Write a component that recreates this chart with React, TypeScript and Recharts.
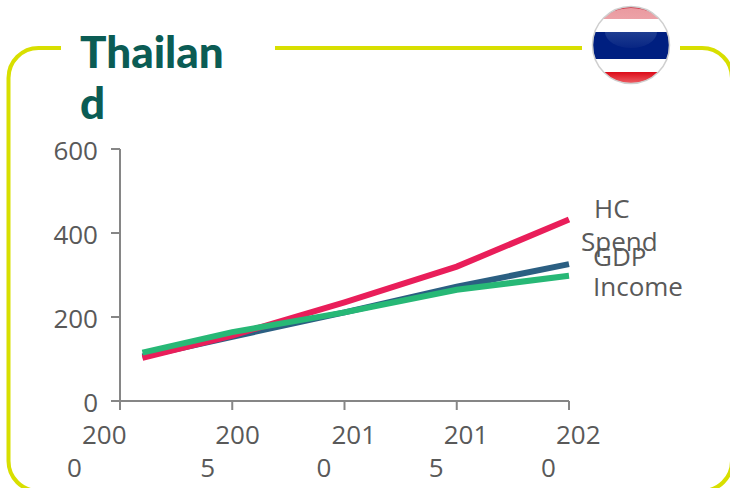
import React from "react";
import { LineChart, Line, XAxis, YAxis, LabelList } from "recharts";

const years = [2001, 2005, 2010, 2015, 2020];
const gdpValues = [106, 153, 211, 272, 326];
const hcSpendValues = [103, 156, 235, 320, 432];
const incomeValues = [115, 164, 211, 265, 298];
const xTicks = [2000, 2005, 2010, 2015, 2020];
const yTicks = [0, 200, 400, 600];
const hcSpendLabel = ["HC", "Spend"];
const gdpLabel = ["GDP", "Income"];

const rows = years.map((year, i) => ({
  year,
  gdp: gdpValues[i],
  hcSpend: hcSpendValues[i],
  income: incomeValues[i],
}));

const TEXT = "#595959";
const AXIS = "#868686";
const FRAME = "#d8df00";
const LABEL_FONT = "'Open Sans', sans-serif";

// Year labels wrap after the third digit, the way a narrow text box does.
function YearTick(props: any) {
  const { x, payload, index } = props;
  const s = String(payload.value);
  const left = x + (index === 0 ? -38 : index === 1 ? -17 : -13);
  return (
    <text fontFamily={LABEL_FONT} fontSize={26} fill={TEXT}>
      <tspan x={left} y={444}>{s.slice(0, 3)}</tspan>
      <tspan x={left - 15} y={477}>{s.slice(3)}</tspan>
    </text>
  );
}

// Value labels sit slightly below the tick they belong to.
function ValueTick(props: any) {
  const { x, y, payload } = props;
  return (
    <text x={x} y={y + 11} textAnchor="end" fontFamily={LABEL_FONT} fontSize={26} fill={TEXT}>
      {payload.value}
    </text>
  );
}

// Draws a two-line series name next to the last point of its line.
function endLabel(lines: string[], dx: number[], dy: number[]) {
  return (props: any) => {
    const { x, y, index } = props;
    if (index !== years.length - 1) return null;
    return (
      <text fontFamily={LABEL_FONT} fontSize={26} fill={TEXT}>
        {lines.map((t, i) => (
          <tspan key={t} x={x + dx[i]} y={y + dy[i]}>{t}</tspan>
        ))}
      </text>
    );
  };
}

function Frame() {
  return (
    <svg width={730} height={488} style={{ position: "absolute", left: 0, top: 0 }}>
      <g fill="none" stroke={FRAME} strokeWidth={4}>
        <path d="M61 48 H38.5 A30 30 0 0 0 8.5 78 V461 A30 30 0 0 0 38.5 491 H702 A30 30 0 0 0 732 461 V78 A30 30 0 0 0 702 48 H680" />
        <path d="M275 48 H582" />
      </g>
    </svg>
  );
}

function Flag() {
  const cx = 631;
  const cy = 45;
  const r = 38.5;
  return (
    <svg width={730} height={488} style={{ position: "absolute", left: 0, top: 0 }}>
      <defs>
        <clipPath id="flagDisc"><circle cx={cx} cy={cy} r={r} /></clipPath>
        <clipPath id="blueBand"><rect x={cx - r} y={32} width={2 * r} height={27} /></clipPath>
        <clipPath id="topBand"><rect x={cx - r} y={6} width={2 * r} height={13} /></clipPath>
        <linearGradient id="bottomRed" x1="0" y1="0" x2="0" y2="1">
          <stop offset="0" stopColor="#dc0a18" />
          <stop offset="1" stopColor="#f06a6e" />
        </linearGradient>
        <linearGradient id="topGloss" x1="0" y1="0" x2="0" y2="1">
          <stop offset="0" stopColor="#ea9aa0" />
          <stop offset="1" stopColor="#f2b4b8" />
        </linearGradient>
        <linearGradient id="blueGloss" x1="0" y1="0" x2="0" y2="1">
          <stop offset="0" stopColor="#34559f" />
          <stop offset="1" stopColor="#082583" />
        </linearGradient>
      </defs>
      <g clipPath="url(#flagDisc)">
        <rect x={cx - r} y={6} width={2 * r} height={14} fill="#cc2a3c" />
        <ellipse cx={cx} cy={28} rx={31} ry={20} fill="url(#topGloss)" clipPath="url(#topBand)" />
        <rect x={cx - r} y={19} width={2 * r} height={13} fill="#ffffff" />
        <rect x={cx - r} y={32} width={2 * r} height={27} fill="#001f80" />
        <ellipse cx={cx} cy={32} rx={26} ry={16} fill="url(#blueGloss)" clipPath="url(#blueBand)" />
        <rect x={cx - r} y={59} width={2 * r} height={13} fill="#ffffff" />
        <rect x={cx - r} y={72} width={2 * r} height={13} fill="url(#bottomRed)" />
      </g>
      <circle cx={cx} cy={cy} r={r} fill="none" stroke="#cfcfcf" strokeWidth={1.5} />
    </svg>
  );
}

export default function App() {
  return (
    <div style={{ position: "absolute", left: 0, top: 0, width: 730, height: 488, overflow: "hidden", background: "#fff" }}>
      <Frame />
      <Flag />
      <div
        style={{
          position: "absolute",
          left: 80,
          top: 26,
          fontFamily: "Lato, sans-serif",
          fontWeight: 900,
          fontSize: 44,
          lineHeight: "51px",
          color: "#0b5c54",
        }}
      >
        Thailan
        <br />
        d
      </div>
      <LineChart
        width={730}
        height={488}
        data={rows}
        margin={{ top: 149, right: 161, bottom: 0, left: 0 }}
        style={{ position: "absolute", left: 0, top: 0 }}
      >
        <XAxis
          dataKey="year"
          type="number"
          domain={[2000, 2020]}
          ticks={xTicks}
          height={87}
          interval={0}
          tickSize={9}
          tick={<YearTick />}
          stroke={AXIS}
          strokeWidth={2}
        />
        <YAxis
          width={120}
          domain={[0, 600]}
          ticks={yTicks}
          tickSize={9}
          tickMargin={13}
          stroke={AXIS}
          strokeWidth={2}
          tick={<ValueTick />}
        />
        <Line dataKey="gdp" stroke="#2b5f82" strokeWidth={6} dot={false} isAnimationActive={false}>
          <LabelList content={endLabel(gdpLabel, [24, 24], [2, 32])} />
        </Line>
        <Line dataKey="hcSpend" stroke="#e91e5a" strokeWidth={6} dot={false} isAnimationActive={false}>
          <LabelList content={endLabel(hcSpendLabel, [25, 12], [-2, 31])} />
        </Line>
        <Line dataKey="income" stroke="#27b876" strokeWidth={6} dot={false} isAnimationActive={false} />
      </LineChart>
    </div>
  );
}
